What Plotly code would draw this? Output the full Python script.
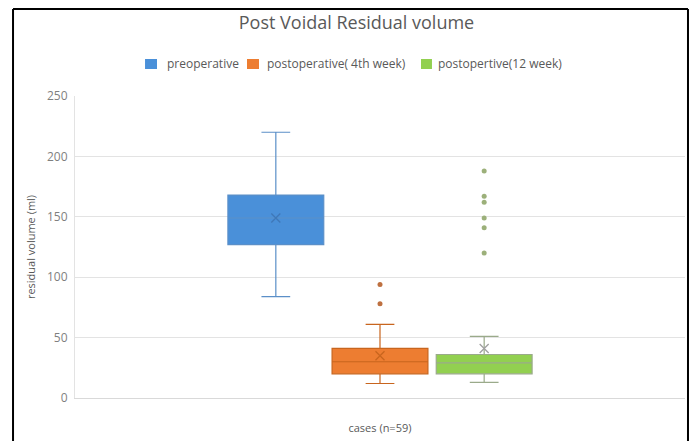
import plotly.graph_objects as go

category = ["cases (n=59)"]
series_names = ["preoperative", "postoperative( 4th week)", "postopertive(12 week)"]
lower_whisker = [84, 12, 13]
q1_values = [127, 20, 20]
median_values = [149, 30, 29]
q3_values = [168, 41, 36]
upper_whisker = [220, 61, 51]
mean_values = [149, 35, 41]
outliers = [[], [78, 94], [120, 141, 149, 162, 167, 188]]

fill_colors = ["#4A90D9", "#ED7D31", "#92D050"]
line_colors = ["#5B8FC8", "#C8651E", "#9AAA8A"]
mean_colors = ["#3F78B8", "#C8651E", "#A0A0A0"]
outlier_colors = ["#BE7040", "#BE7040", "#9CB07A"]

fig = go.Figure()
for i, name in enumerate(series_names):
    fig.add_trace(go.Box(
        name=name, x=category, offsetgroup=str(i), legendgroup=str(i),
        q1=[q1_values[i]], median=[median_values[i]], q3=[q3_values[i]],
        lowerfence=[lower_whisker[i]], upperfence=[upper_whisker[i]],
        fillcolor=fill_colors[i], line=dict(color=line_colors[i], width=1.2),
        whiskerwidth=0.3, boxpoints=False, showlegend=False,
    ))
for i, name in enumerate(series_names):
    fig.add_trace(go.Box(
        name=name, x=category * len(outliers[i]) if outliers[i] else category,
        y=outliers[i] if outliers[i] else [None], offsetgroup=str(i), legendgroup=str(i),
        showlegend=False, boxpoints="all", jitter=0, pointpos=0,
        fillcolor="rgba(0,0,0,0)", line=dict(color="rgba(0,0,0,0)", width=0),
        marker=dict(color=outlier_colors[i], size=5, symbol="circle"), hoveron="points",
    ))
for i, name in enumerate(series_names):
    fig.add_trace(go.Box(
        name=name, x=category, y=[mean_values[i]], offsetgroup=str(i), legendgroup=str(i),
        showlegend=False, boxpoints="all", jitter=0, pointpos=0,
        fillcolor="rgba(0,0,0,0)", line=dict(color="rgba(0,0,0,0)", width=0),
        marker=dict(color=mean_colors[i], size=9, symbol="x-thin",
                    line=dict(color=mean_colors[i], width=1.3)),
        hoveron="points",
    ))

fig.update_layout(
    width=697, height=441,
    margin=dict(l=67, r=20, t=88, b=51, autoexpand=False),
    paper_bgcolor="white", plot_bgcolor="white",
    font=dict(family="Open Sans, Arial, sans-serif", color="#595959", size=11),
    boxmode="group", boxgap=0.48, boxgroupgap=0.08,
    showlegend=False,
    title=dict(text="Post Voidal Residual volume", x=0.5, xanchor="center",
               y=0.966, yanchor="middle", font=dict(size=18, color="#595959")),
    xaxis=dict(showticklabels=False, showgrid=False, showline=True, linecolor="#D9D9D9",
               automargin=False,
               title=dict(text="cases (n=59)", standoff=26, font=dict(size=11, color="#595959"))),
    yaxis=dict(range=[0, 250], dtick=50, showgrid=True, gridcolor="#E3E3E3",
               showline=True, linecolor="#E3E3E3", zeroline=False, ticks="",
               automargin=False, ticklabelstandoff=4,
               tickfont=dict(size=12, color="#7F7F7F"),
               title=dict(text="residual volume (ml)", standoff=9, font=dict(size=11, color="#595959"))),
)

# custom legend (compact, like the original)
leg_sq_x = [(0.1148, 0.1344), (0.2820, 0.3016), (0.5672, 0.5852)]
leg_txt_x = [0.1475, 0.3115, 0.5918]
for i, name in enumerate(series_names):
    fig.add_shape(type="rect", xref="paper", yref="paper",
                  x0=leg_sq_x[i][0], x1=leg_sq_x[i][1], y0=1.0894, y1=1.1225,
                  fillcolor=fill_colors[i], line=dict(width=0))
    fig.add_annotation(text=name, xref="paper", yref="paper", x=leg_txt_x[i], y=1.106,
                       xanchor="left", yanchor="middle", showarrow=False,
                       font=dict(size=12, color="#595959"))

bw = 2
fig.add_shape(type="line", xref="paper", yref="paper", x0=-0.1016, x1=-0.1016, y0=1.288, y1=-0.2,
              line=dict(color="black", width=bw))
fig.add_shape(type="line", xref="paper", yref="paper", x0=1.0049, x1=1.0049, y0=1.288, y1=-0.2,
              line=dict(color="black", width=bw))
fig.add_shape(type="line", xref="paper", yref="paper", x0=-0.1016, x1=1.0049, y0=1.288, y1=1.288,
              line=dict(color="black", width=bw))

fig.write_html("out.html")
